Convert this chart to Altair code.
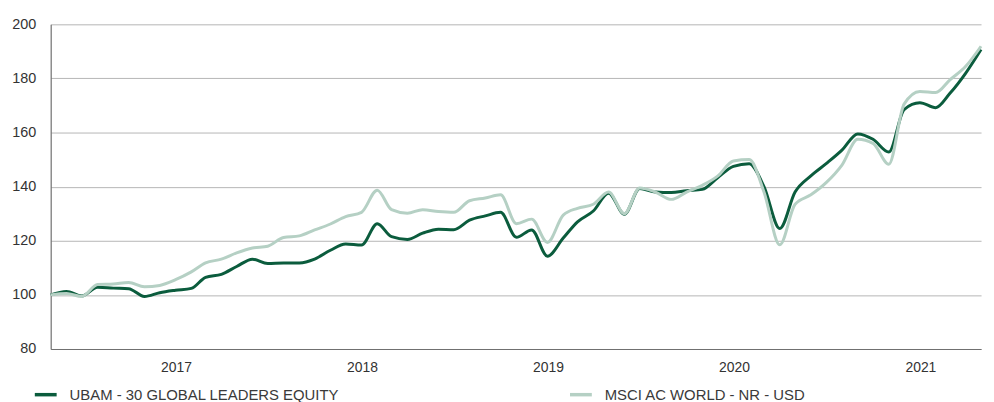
import altair as alt
import pandas as pd

months = pd.date_range("2016-04-30", "2021-04-30", freq="ME").strftime("%Y-%m-%d").tolist()

ubam = [100, 101.3, 99.6, 102.8, 102.5, 102.3, 99.4, 100.8, 101.7, 102.4,
        106.5, 107.6, 110.5, 113.2, 111.6, 111.8, 111.8, 113.2, 116.5, 118.8,
        118.4, 126.3, 121.5, 120.5, 122.8, 124.3, 124.1, 127.6, 129.2, 130.5,
        121.3, 124.0, 114.3, 121.0, 127.0, 131.0, 137.6, 129.8, 139.3, 138.0,
        137.8, 138.5, 139.0, 143.3, 147.5, 148.5, 140.0, 124.5, 138.0, 144.0,
        148.5, 153.5, 159.5, 157.5, 152.8, 168.5, 171.0, 169.2, 174.5, 182.0,
        190.7]

msci = [100, 100.5, 99.4, 103.8, 104.0, 104.6, 103.0, 103.5, 105.6, 108.5,
        111.8, 113.2, 115.5, 117.3, 118.0, 121.2, 121.8, 124.0, 126.2, 128.9,
        130.5, 138.7, 131.5, 130.2, 131.5, 130.8, 130.5, 134.8, 135.8, 137.0,
        126.3, 128.0, 119.4, 129.5, 132.0, 133.5, 138.0, 130.0, 139.5, 138.0,
        135.3, 138.0, 140.5, 143.9, 149.5, 150.0, 138.0, 118.5, 133.5, 137.0,
        141.5, 148.0, 157.5, 156.0, 148.3, 170.5, 175.2, 174.8, 179.5, 184.5,
        191.9]

series_names = ["UBAM - 30 GLOBAL LEADERS EQUITY", "MSCI AC WORLD - NR - USD"]
series_colors = ["#0b5c3d", "#b5d0c4"]
year_ticks = [2017, 2018, 2019, 2020, 2021]

rows = []
for d, v in zip(months, ubam):
    rows.append({"date": d, "value": v, "series": series_names[0], "order": 1})
for d, v in zip(months, msci):
    rows.append({"date": d, "value": v, "series": series_names[1], "order": 0})
df = pd.DataFrame(rows)

FONT = "Liberation Sans"

chart = alt.Chart(df).mark_line(strokeWidth=3, interpolate="monotone").encode(
    x=alt.X("date:T",
            scale=alt.Scale(domain=[alt.DateTime(year=2016, month=4, date=30),
                                    alt.DateTime(year=2021, month=4, date=30)], nice=False),
            axis=alt.Axis(title=None, format="%Y", grid=False, ticks=False,
                          values=[alt.DateTime(year=y, month=1, date=1) for y in year_ticks],
                          labelFontSize=14, labelColor="#333333", labelFont=FONT,
                          labelPadding=12, domainColor="#707070", domainWidth=1.2)),
    y=alt.Y("value:Q",
            scale=alt.Scale(domain=[80, 200], nice=False, zero=False),
            axis=alt.Axis(title=None, values=[80, 100, 120, 140, 160, 180, 200],
                          ticks=False, labelFontSize=14.5, labelColor="#333333",
                          labelFont=FONT, labelPadding=15, gridColor="#b5b5b5",
                          gridWidth=1, domainColor="#707070", domainWidth=1.2)),
    color=alt.Color("series:N",
                    scale=alt.Scale(domain=series_names, range=series_colors),
                    legend=alt.Legend(title=None, orient="none", legendX=-18, legendY=360,
                                      direction="horizontal", symbolType="stroke",
                                      symbolSize=484, symbolStrokeWidth=3.5,
                                      labelFontSize=15, labelColor="#3a3a3a", labelFont=FONT,
                                      labelOffset=11, columnPadding=225, labelLimit=400)),
    order=alt.Order("order:Q"),
).properties(
    width=937, height=327,
    padding={"left": 43, "top": 15, "right": 5, "bottom": 60},
    autosize=alt.AutoSizeParams(type="none"),
).configure_view(stroke=None)

chart.save("out.html", embed_options={"renderer": "svg", "actions": False})
